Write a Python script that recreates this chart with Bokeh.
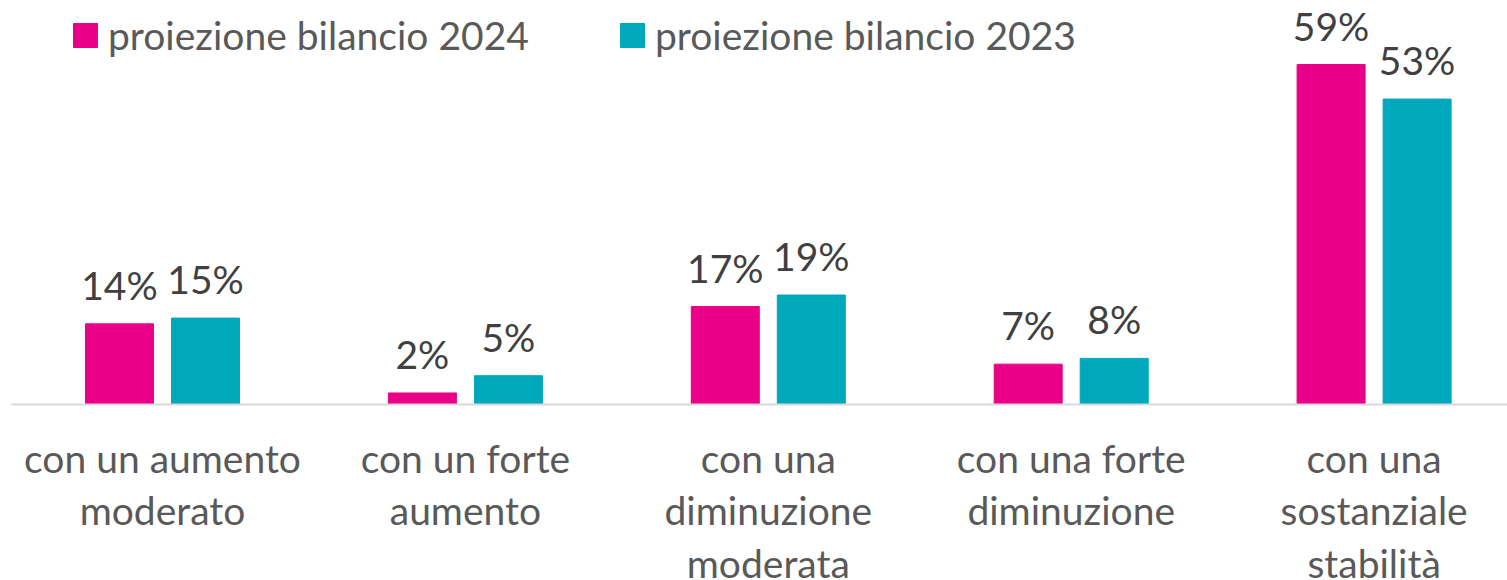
from bokeh.plotting import figure
from bokeh.models import ColumnDataSource, Legend, LegendItem, Range1d
from bokeh.core.properties import value
from bokeh.transform import dodge
from bokeh.embed import file_html
from bokeh.resources import INLINE

categories = ["con un aumento\nmoderato", "con un forte\naumento", "con una\ndiminuzione\nmoderata",
              "con una forte\ndiminuzione", "con una\nsostanziale\nstabilità"]
series_names = ["proiezione bilancio 2024", "proiezione bilancio 2023"]
v2024 = [14, 2, 17, 7, 59]
v2023 = [15, 5, 19, 8, 53]

C24 = "#EA0088"
C23 = "#00A8BC"
FONT = "Lato"
FS = "39px"

idx = list(range(len(categories)))
src = ColumnDataSource(dict(
    x=idx, cat=categories, v24=v2024, v23=v2023,
    l24=[f"{v}%" for v in v2024], l23=[f"{v}%" for v in v2023],
    zero=[0] * len(idx),
))

p = figure(width=1507, height=580, output_backend="svg", toolbar_location=None,
           x_range=Range1d(-0.5348, 4.4404), y_range=Range1d(-30.54, 70.106),
           min_border=0, outline_line_color=None)
p.xaxis.visible = False
p.yaxis.visible = False
p.xgrid.visible = False
p.ygrid.visible = False

off = 0.142
w = 0.2245
r24 = p.vbar(x=dodge("x", -off), top="v24", width=w, source=src, color=C24)
r23 = p.vbar(x=dodge("x", off), top="v23", width=w, source=src, color=C23)

# baseline axis
p.segment(x0=-0.5, x1=4.5, y0=0, y1=0, line_color="#D9D9D9", line_width=2)

# data labels
p.text(x=dodge("x", -off), y="v24", text="l24", source=src, text_align="center",
       text_baseline="alphabetic", y_offset=-39, text_font=value(FONT), text_font_size=FS,
       text_color="#404040")
p.text(x=dodge("x", off), y="v23", text="l23", source=src, text_align="center",
       text_baseline="alphabetic", y_offset=-39, text_font=value(FONT), text_font_size=FS,
       text_color="#404040")

# category labels
p.text(x="x", y="zero", text="cat", source=src, text_align="center", text_baseline="top",
       y_offset=30, text_font=value(FONT), text_font_size=FS, text_color="#595959",
       text_line_height=1.15)

for r, name, xloc in [(r24, series_names[0], 70), (r23, series_names[1], 617)]:
    lg = Legend(items=[LegendItem(label=name, renderers=[r])], location=(xloc, 522),
                orientation="horizontal", padding=0, margin=0, spacing=0,
                glyph_width=30, glyph_height=30, label_standoff=8,
                label_text_font=FONT, label_text_font_size=FS, label_text_color="#595959",
                border_line_alpha=0, background_fill_alpha=0)
    p.add_layout(lg, "center")

open("out.html", "w").write(file_html(p, INLINE))
